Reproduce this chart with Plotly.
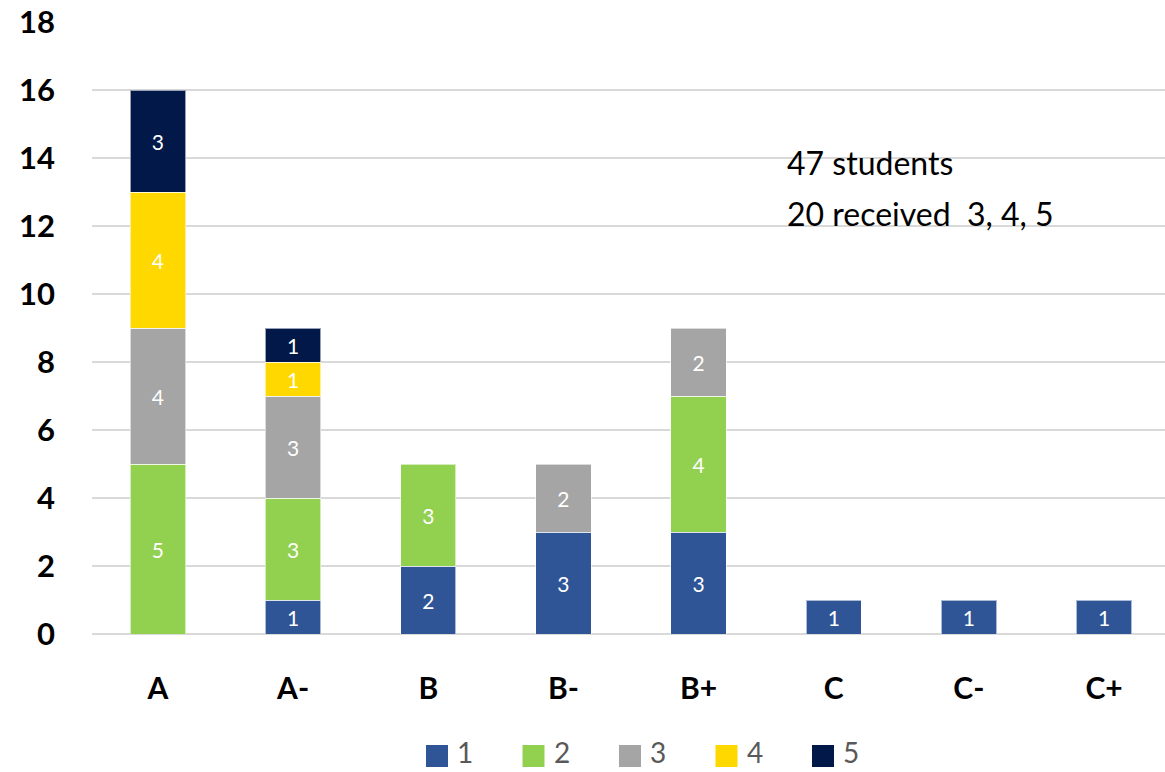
import plotly.graph_objects as go

categories = ["A", "A-", "B", "B-", "B+", "C", "C-", "C+"]
series_names = ["1", "2", "3", "4", "5"]
s1 = [0, 1, 2, 3, 3, 1, 1, 1]
s2 = [5, 3, 3, 0, 4, 0, 0, 0]
s3 = [4, 3, 0, 2, 2, 0, 0, 0]
s4 = [4, 1, 0, 0, 0, 0, 0, 0]
s5 = [3, 1, 0, 0, 0, 0, 0, 0]
y_ticks = [0, 2, 4, 6, 8, 10, 12, 14, 16, 18]
note_lines = ["47 students", "20 received  3, 4, 5"]

colors = ["#2F5597", "#92D050", "#A5A5A5", "#FFD800", "#011848"]
series = [s1, s2, s3, s4, s5]
FONT = "Lato"

fig = go.Figure()
for name, vals, col in zip(series_names, series, colors):
    fig.add_trace(go.Bar(
        x=categories,
        y=[v if v else None for v in vals],
        name=name,
        marker=dict(color=col, line=dict(color="rgba(255,255,255,0.6)", width=1)),
        width=0.41,
        text=[str(v) if v else "" for v in vals],
        textposition="inside",
        insidetextanchor="middle",
        textangle=0,
        constraintext="none",
        textfont=dict(color="white", size=21, family=FONT),
        showlegend=False,
        hoverinfo="x+y+name",
    ))

W, H = 1165, 772
L, R, T, B = 92, 0, 22, 138
pw, ph = W - L - R, H - T - B

def px_x(x):
    return (x - L) / pw

def px_y(y):
    return (H - B - y) / ph

shapes = []
annotations = []
leg_x0 = 426
leg_step = 96.5
for i, (name, col) in enumerate(zip(series_names, colors)):
    x0 = leg_x0 + i * leg_step
    shapes.append(dict(type="rect", xref="paper", yref="paper",
                       x0=px_x(x0), x1=px_x(x0 + 22), y0=px_y(767), y1=px_y(745),
                       fillcolor=col, line=dict(width=0)))
    annotations.append(dict(xref="paper", yref="paper", x=px_x(x0 + 29), y=px_y(771),
                            xanchor="left", yanchor="bottom", text=name, showarrow=False,
                            font=dict(size=28, color="#595959", family=FONT)))

for i, line in enumerate(note_lines):
    annotations.append(dict(xref="paper", yref="paper", x=px_x(785), y=px_y(163 + 50 * i),
                            xanchor="left", yanchor="middle", text=line, showarrow=False,
                            font=dict(size=32, color="black", family=FONT)))

fig.update_layout(
    barmode="stack",
    width=W, height=H,
    margin=dict(l=L, r=R, t=T, b=B, pad=0),
    plot_bgcolor="white",
    paper_bgcolor="white",
    font=dict(family=FONT, color="black"),
    shapes=shapes,
    annotations=annotations,
    xaxis=dict(range=[-0.488, 7.451], showgrid=False, zeroline=False, showline=False,
               tickfont=dict(size=30, family=FONT, color="black", weight="bold"),
               ticklabelstandoff=34, ticks=""),
    yaxis=dict(range=[0, 18], tickvals=y_ticks, showgrid=True, gridcolor="#D9D9D9",
               gridwidth=1.5, zeroline=True, zerolinecolor="#D9D9D9", zerolinewidth=1.5,
               showline=False, ticks="",
               tickfont=dict(size=31, family=FONT, color="black", weight="bold"),
               ticklabelstandoff=36),
)

fig.write_html("out.html")
